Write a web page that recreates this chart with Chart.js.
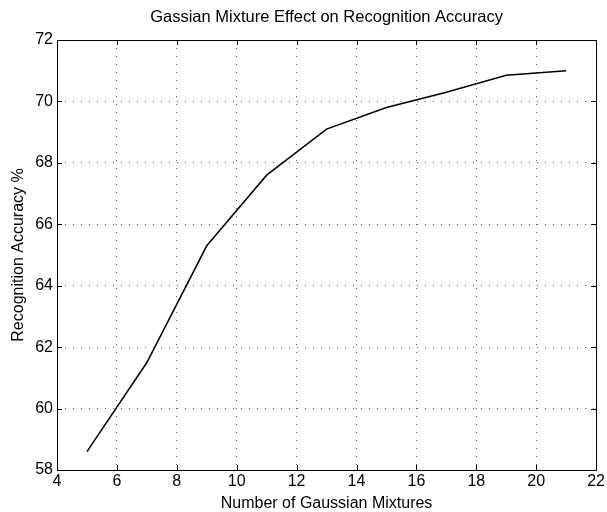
<!DOCTYPE html>
<html>
<head>
<meta charset="utf-8">
<title>Gassian Mixture Effect on Recognition Accuracy</title>
<script src="https://cdn.jsdelivr.net/npm/chart.js@4.4.0/dist/chart.umd.min.js"></script>
<style>
    html, body { margin: 0; padding: 0; background: #fff; }
    #wrap { width: 607px; height: 512px; }
</style>
</head>
<body>
<div id="wrap"><canvas id="chart" width="607" height="512"></canvas></div>
<script>
// Values
const mixtures = [5, 7, 9, 11, 13, 15, 17, 19, 21];
const accuracy = [58.6, 61.5, 65.3, 67.6, 69.1, 69.8, 70.3, 70.85, 71.0];
const xTicks = [4, 6, 8, 10, 12, 14, 16, 18, 20, 22];
const yTicks = [58, 60, 62, 64, 66, 68, 70, 72];

const FONT = "'Liberation Sans', Arial, Helvetica, sans-serif";

// MATLAB style box with inward tick marks on all four sides
const boxTicks = {
    id: 'boxTicks',
    afterDraw: (chart) => {
        const { ctx, chartArea: a, scales } = chart;
        const len = 5;
        ctx.save();
        ctx.strokeStyle = '#000';
        ctx.lineWidth = 1;
        ctx.beginPath();
        xTicks.forEach(v => {
            const px = Math.round(scales.x.getPixelForValue(v)) + 0.5;
            ctx.moveTo(px, a.bottom);
            ctx.lineTo(px, a.bottom - len);
            ctx.moveTo(px, a.top);
            ctx.lineTo(px, a.top + len);
        });
        yTicks.forEach(v => {
            const py = Math.round(scales.y.getPixelForValue(v)) + 0.5;
            ctx.moveTo(a.left, py);
            ctx.lineTo(a.left + len, py);
            ctx.moveTo(a.right, py);
            ctx.lineTo(a.right - len, py);
        });
        ctx.stroke();
        ctx.strokeRect(Math.round(a.left) + 0.5, Math.round(a.top) + 0.5,
            Math.round(a.width), Math.round(a.height));
        ctx.restore();
    }
};

const gridOpts = {
    color: 'rgba(0, 0, 0, 0.65)',
    lineWidth: 1,
    drawTicks: false
};

new Chart(document.getElementById('chart'), {
    type: 'line',
    data: {
        datasets: [{
            data: mixtures.map((m, i) => ({ x: m, y: accuracy[i] })),
            borderColor: '#000',
            borderWidth: 1.5,
            pointRadius: 0,
            tension: 0,
            fill: false
        }]
    },
    options: {
        responsive: false,
        animation: false,
        layout: {
            padding: { left: 0, right: 10, top: 0, bottom: 0 }
        },
        plugins: {
            legend: { display: false },
            tooltip: { enabled: false },
            title: { display: false }
        },
        scales: {
            x: {
                type: 'linear',
                min: xTicks[0],
                max: xTicks[xTicks.length - 1],
                afterBuildTicks: (s) => { s.ticks = xTicks.map(v => ({ value: v })); },
                afterFit: (s) => { s.height = 42; },
                grid: gridOpts,
                border: { display: false, dash: [1, 7] },
                ticks: {
                    color: '#000',
                    padding: 2,
                    maxRotation: 0,
                    font: { family: FONT, size: 16 }
                },
                title: {
                    display: true,
                    text: 'Number of Gaussian Mixtures',
                    color: '#000',
                    font: { family: FONT, size: 16, lineHeight: 1 },
                    padding: 0
                }
            },
            // top axis only carries the chart title, centred over the plot box
            x2: {
                type: 'linear',
                position: 'top',
                min: xTicks[0],
                max: xTicks[xTicks.length - 1],
                afterFit: (s) => { s.height = 40; },
                grid: { display: false },
                border: { display: false },
                ticks: { display: false },
                title: {
                    display: true,
                    text: 'Gassian Mixture Effect on Recognition Accuracy',
                    color: '#000',
                    font: { family: FONT, size: 16.5 },
                    padding: { top: 8, bottom: 0 }
                }
            },
            y: {
                type: 'linear',
                min: yTicks[0],
                max: yTicks[yTicks.length - 1],
                afterBuildTicks: (s) => { s.ticks = yTicks.map(v => ({ value: v })); },
                afterFit: (s) => { s.width = 57; },
                grid: gridOpts,
                border: { display: false, dash: [1, 7] },
                ticks: {
                    color: '#000',
                    padding: 4,
                    font: { family: FONT, size: 16 }
                },
                title: {
                    display: true,
                    text: 'Recognition Accuracy %',
                    color: '#000',
                    font: { family: FONT, size: 16 },
                    padding: { top: 9, bottom: 0 }
                }
            }
        }
    },
    plugins: [boxTicks]
});
</script>
</body>
</html>
